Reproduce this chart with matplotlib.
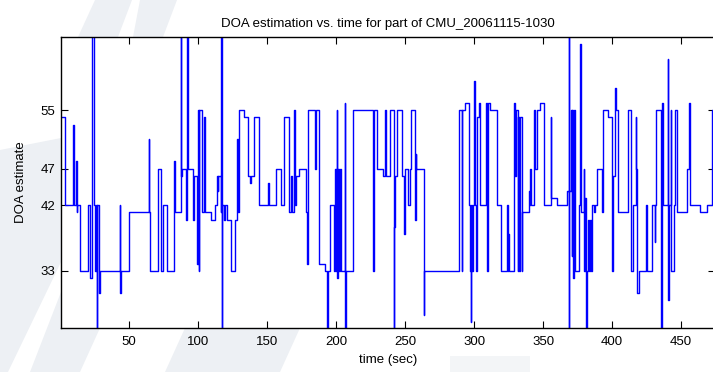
import matplotlib
matplotlib.use('Agg')
import matplotlib.pyplot as plt
from matplotlib.patches import Polygon

# change points of the DOA estimate (time in seconds, estimate in degrees)
t_sec = [
    0.7, 3.4, 9.6, 10.0, 11.8, 12.1, 12.4, 14.3, 20.3, 22.0,
    23.5, 24.3, 25.5, 26.0, 26.6, 27.0, 28.0, 28.6, 43.5, 43.8,
    44.2, 49.8, 64.3, 64.6, 65.0, 71.0, 73.0, 74.9, 77.5, 82.6,
    83.2, 87.4, 87.9, 88.4, 91.5, 92.0, 92.4, 96.4, 96.9, 99.5,
    100.0, 100.4, 100.8, 102.9, 104.6, 104.9, 109.2, 112.1, 114.0, 114.3,
    114.6, 116.4, 116.9, 117.3, 117.6, 119.0, 119.5, 121.2, 123.6, 124.0,
    126.8, 128.0, 128.4, 128.8, 129.9, 133.5, 136.4, 137.8, 138.2, 140.8,
    144.4, 150.9, 151.3, 156.5, 160.1, 162.5, 166.1, 167.5, 168.0, 169.5,
    170.0, 171.0, 172.9, 178.2, 179.0, 179.6, 185.0, 185.3, 187.4, 192.0,
    193.5, 193.9, 195.6, 198.8, 199.5, 200.0, 200.4, 200.8, 201.5, 202.5,
    203.2, 203.6, 206.5, 206.8, 207.2, 212.0, 227.0, 227.7, 229.9, 233.8,
    235.7, 236.4, 239.3, 241.8, 242.1, 242.5, 244.2, 247.8, 249.5, 249.9,
    250.2, 252.1, 253.8, 254.6, 257.5, 257.9, 258.2, 263.5, 264.0, 288.9,
    291.0, 291.4, 293.7, 296.6, 297.3, 297.6, 298.0, 298.6, 299.2, 300.3,
    300.7, 301.4, 301.8, 302.1, 303.8, 304.6, 308.7, 309.4, 309.8, 311.8,
    316.6, 319.8, 323.9, 324.3, 324.8, 325.4, 328.7, 329.9, 330.5, 331.5,
    332.0, 332.8, 333.2, 334.5, 334.8, 339.6, 340.2, 340.8, 341.5, 343.2,
    343.9, 345.6, 348.0, 350.5, 355.5, 355.8, 359.9, 367.1, 368.5, 368.8,
    369.1, 370.0, 371.0, 371.3, 372.0, 372.4, 373.2, 376.1, 377.1, 377.5,
    379.7, 380.0, 380.2, 381.4, 381.8, 382.5, 383.2, 384.0, 384.5, 385.2,
    386.9, 387.6, 388.9, 393.0, 393.7, 397.3, 400.2, 400.9, 402.4, 402.8,
    404.3, 411.6, 413.5, 415.4, 417.1, 417.6, 418.0, 419.5, 424.4, 425.1,
    429.2, 431.1, 431.4, 431.6, 435.2, 435.8, 436.3, 436.8, 440.6, 440.9,
    441.3, 442.5, 443.0, 444.9, 445.6, 447.3, 454.6, 455.8, 456.3, 463.7,
    468.6, 472.7, 474.5,
]
doa_deg = [
    54, 42, 53, 42, 48, 41, 42, 33, 42, 32,
    68, 42, 33, 42, 22, 42, 30, 33, 42, 30,
    33, 41, 51, 41, 33, 47, 33, 42, 33, 48,
    41, 68, 46, 47, 40, 68, 47, 40, 46, 34,
    55, 33, 55, 41, 54, 41, 40, 42, 46, 44,
    46, 41, 68, 22, 42, 40, 42, 40, 35, 33,
    40, 41, 51, 41, 55, 54, 46, 45, 46, 54,
    42, 45, 42, 47, 42, 54, 41, 46, 41, 55,
    42, 46, 47, 41, 34, 55, 47, 55, 34, 33,
    22, 33, 42, 33, 47, 33, 55, 32, 47, 33,
    47, 33, 56, 22, 33, 55, 33, 55, 47, 46,
    55, 46, 55, 22, 39, 46, 55, 46, 38, 46,
    47, 42, 47, 55, 40, 49, 47, 27, 33, 55,
    33, 55, 56, 42, 33, 26, 42, 33, 42, 59,
    42, 33, 42, 54, 56, 42, 56, 33, 56, 55,
    42, 33, 42, 33, 38, 33, 56, 46, 55, 33,
    54, 33, 54, 33, 41, 44, 42, 47, 42, 55,
    47, 55, 56, 42, 54, 43, 42, 44, 68, 22,
    44, 55, 35, 55, 32, 55, 33, 42, 64, 41,
    47, 33, 43, 22, 33, 40, 33, 40, 33, 42,
    41, 42, 47, 41, 55, 54, 33, 46, 58, 55,
    41, 55, 33, 42, 54, 47, 30, 33, 42, 33,
    42, 37, 42, 55, 45, 22, 56, 42, 62, 29,
    42, 55, 33, 42, 55, 41, 47, 56, 42, 41,
    42, 55, 55,
]

x_ticks = [50, 100, 150, 200, 250, 300, 350, 400, 450]
y_ticks = [33, 42, 47, 55]

plt.rcParams['font.family'] = ['Liberation Sans', 'DejaVu Sans']

W, H = 713, 372
fig = plt.figure(figsize=(W / 100, H / 100), dpi=100)

# faint background logo shapes, given in pixels from the top-left corner
shade = '#edf0f4'
logo_shapes = [
    ([(0, 150), (61, 138), (61, 372), (0, 372)], shade),
    ([(61, 262), (61, 292), (30, 372), (8, 372)], 'white'),
    ([(40, 372), (61, 328), (100, 328), (80, 372)], shade),
    ([(165, 372), (185, 328), (300, 328), (280, 372)], shade),
    ([(450, 356), (530, 356), (530, 372), (450, 372)], '#f3f5f7'),
    ([(95, 0), (132, 0), (118, 37), (78, 37)], shade),
    ([(140, 0), (177, 0), (163, 37), (133, 37)], shade),
]
for pts, col in logo_shapes:
    fig.patches.append(Polygon([(x / W, 1 - y / H) for x, y in pts], closed=True,
                               transform=fig.transFigure, facecolor=col,
                               edgecolor='none', zorder=-10))

ax = fig.add_axes([61 / W, 44 / H, 654 / W, 291 / H])
ax.set_facecolor('white')

ax.step(t_sec, doa_deg, where='post', color='#0000ff', linewidth=1.0)

ax.set_xlim(0.7, 474.6)
ax.set_ylim(25.2, 65.0)
ax.set_xticks(x_ticks)
ax.set_yticks(y_ticks)
ax.tick_params(direction='in', length=5, width=0.8, top=True, right=True,
               labelsize=9.5)
ax.tick_params(axis='x', pad=6)
ax.tick_params(axis='y', pad=4)
for spine in ax.spines.values():
    spine.set_linewidth(1.0)

ax.set_title('DOA estimation vs. time for part of CMU_20061115-1030', fontsize=9.5, pad=7)
ax.set_xlabel('time (sec)', fontsize=9.5, labelpad=4)
ax.set_ylabel('DOA estimate', fontsize=9.5, labelpad=10)

fig.savefig('out.png', dpi=100)
